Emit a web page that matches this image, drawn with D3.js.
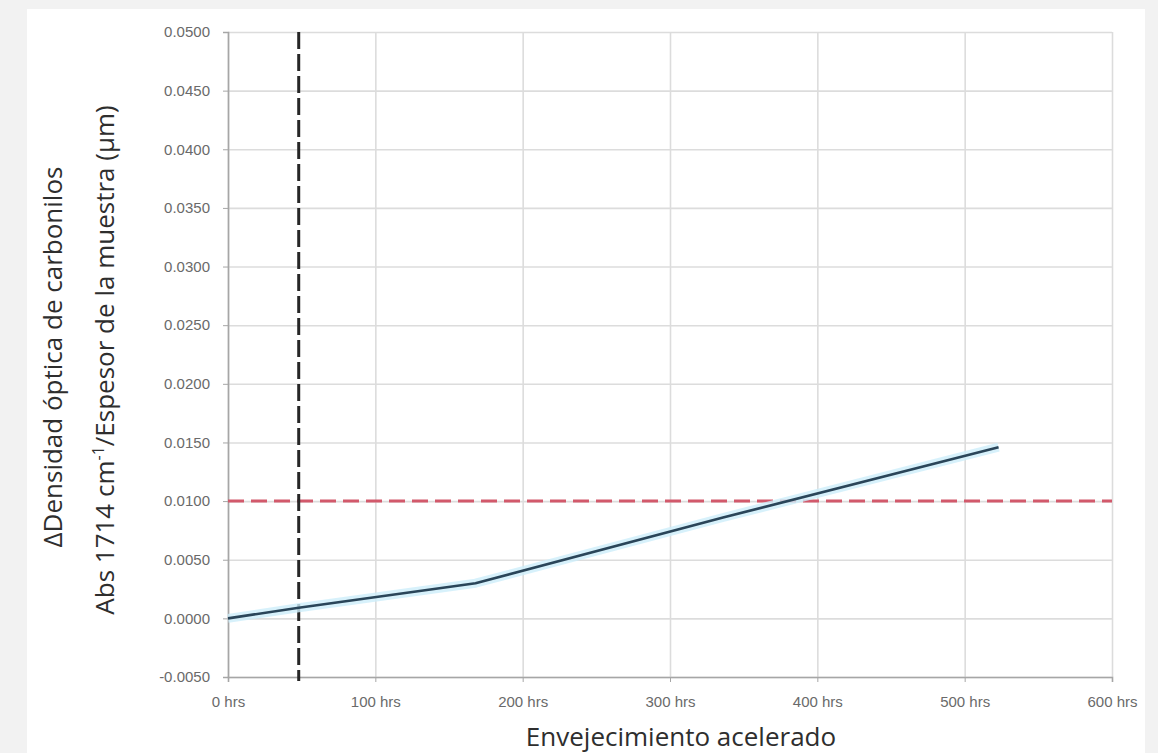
<!DOCTYPE html>
<html>
<head>
<meta charset="utf-8">
<script src="https://cdn.jsdelivr.net/npm/d3@7"></script>
<style>
  html, body { margin: 0; padding: 0; background: #f2f2f2; }
  svg { display: block; }
  .tick text { font-family: "Liberation Sans", Arial, sans-serif; font-size: 15px; fill: #6a6a6a; }
  .axis path, .axis line { stroke: #a6a6a6; }
  .grid line { stroke: #dcdcdc; stroke-width: 1.6; }
  .grid path { display: none; }
  .title { font-family: "Open Sans", sans-serif; fill: #2e2e2e; }
</style>
</head>
<body>
<div id="chart"></div>
<script>
/* Carbonyl optical density vs accelerated ageing, with two reference lines. */
const hours = [0, 48, 168, 336, 523];
const carbonyl = [0.0000, 0.0009, 0.0030, 0.0086, 0.0146];
const xTicks = [0, 100, 200, 300, 400, 500, 600];
const yTicks = [-0.005, 0, 0.005, 0.01, 0.015, 0.02, 0.025, 0.03, 0.035, 0.04, 0.045, 0.05];
const markHours = 48;      // vertical dashed line
const limitValue = 0.0100; // horizontal red dashed line
const xTitle = "Envejecimiento acelerado";
const yTitle1 = "\u0394Densidad \u00f3ptica de carbonilos";

const W = 1158, Ht = 753;
const m = { t: 32, r: 46, b: 76, l: 228 };
const svg = d3.select("#chart").append("svg").attr("width", W).attr("height", Ht);

// white panel on grey page
svg.append("rect").attr("x", 27).attr("y", 9).attr("width", 1118).attr("height", Ht - 9).attr("fill", "#fff");

const x = d3.scaleLinear().domain([0, 600]).range([m.l, W - m.r]);
const y = d3.scaleLinear().domain([-0.005, 0.05]).range([Ht - m.b, m.t]);

svg.append("g").attr("class", "grid").attr("transform", `translate(${m.l},0)`)
  .call(d3.axisLeft(y).tickValues(yTicks).tickSize(-(W - m.l - m.r)).tickFormat(""));
svg.append("g").attr("class", "grid").attr("transform", `translate(0,${Ht - m.b})`)
  .call(d3.axisBottom(x).tickValues(xTicks).tickSize(-(Ht - m.t - m.b)).tickFormat(""));

svg.append("g").attr("class", "axis").attr("transform", `translate(${m.l},0)`)
  .call(d3.axisLeft(y).tickValues(yTicks).tickSize(5).tickPadding(13).tickFormat(d => d.toFixed(4)))
  .call(g => g.select(".domain").attr("stroke-width", 1.6));
svg.append("g").attr("class", "axis").attr("transform", `translate(0,${Ht - m.b})`)
  .call(d3.axisBottom(x).tickValues(xTicks).tickSize(5).tickPadding(14).tickFormat(d => d + " hrs"))
  .call(g => g.select(".domain").attr("stroke-width", 1.6));

// reference lines
svg.append("line")
  .attr("x1", x(0)).attr("x2", x(600))
  .attr("y1", y(limitValue)).attr("y2", y(limitValue))
  .attr("stroke", "#d2596b").attr("stroke-width", 3)
  .attr("stroke-dasharray", "16,7");

svg.append("line")
  .attr("x1", x(markHours)).attr("x2", x(markHours))
  .attr("y1", y(0.05)).attr("y2", y(-0.005) + 4)
  .attr("stroke", "#262626").attr("stroke-width", 3)
  .attr("stroke-dasharray", "17,5");

// data line with soft halo
const pts = hours.map((h, i) => [h, carbonyl[i]]);
const line = d3.line().x(d => x(d[0])).y(d => y(d[1]));
svg.append("path").datum(pts)
  .attr("fill", "none").attr("stroke", "#cdeefa").attr("stroke-width", 9)
  .attr("stroke-linejoin", "round").attr("opacity", 0.8).attr("d", line);
svg.append("path").datum(pts)
  .attr("fill", "none").attr("stroke", "#2a4559").attr("stroke-width", 2.6)
  .attr("stroke-linejoin", "round").attr("d", line);

// titles
svg.append("text").attr("class", "title")
  .attr("x", 681).attr("y", 746).attr("text-anchor", "middle")
  .attr("font-size", 26).text(xTitle);

svg.append("text").attr("class", "title")
  .attr("transform", "translate(62,357) rotate(-90)")
  .attr("text-anchor", "middle").attr("font-size", 26).text(yTitle1);

const t2 = svg.append("text").attr("class", "title")
  .attr("transform", "translate(114,360) rotate(-90)")
  .attr("text-anchor", "middle").attr("font-size", 26);
t2.append("tspan").text("Abs 1714 cm");
t2.append("tspan").attr("font-size", 16).attr("dy", -10).text("-1");
t2.append("tspan").attr("dy", 10).text("/Espesor de la muestra (\u00b5m)");
</script>
</body>
</html>
